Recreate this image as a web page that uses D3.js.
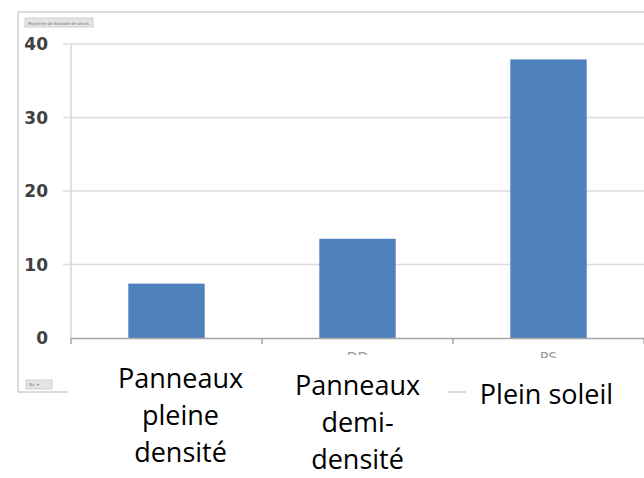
<!DOCTYPE html>
<html>
  <head>
    <title>Nombre de semis</title>
    <style>
body {
  margin: 0px;
  overflow: hidden;
  background: #fff;
}
.tick-label {
  font-family: 'DejaVu Sans', sans-serif;
  font-size: 17px;
  font-weight: bold;
  fill: #404040;
}
.cat-label {
  font-family: 'Open Sans', sans-serif;
  font-size: 27px;
  fill: #000;
}
.btn text {
  font-family: 'DejaVu Sans', sans-serif;
  font-size: 4px;
  fill: #777;
}
    </style>
    <script src="https://d3js.org/d3.v7.min.js"></script>
  </head>
  <body>
    <svg width="644" height="478"></svg>
    <script>
// data
const categories = ['PD', 'DD', 'PS'];
const values = [7.4, 13.5, 37.9];
const yTicks = [0, 10, 20, 30, 40];
const catLabels = [
  ['Panneaux', 'pleine', 'densité'],
  ['Panneaux', 'demi-', 'densité'],
  ['Plein soleil']
];

const svg = d3.select('svg');

const plot = { left: 71, right: 644, top: 44, bottom: 338 };

const xScale = d3.scaleBand()
  .domain(categories)
  .range([plot.left, plot.right])
  .paddingInner(0.6)
  .paddingOuter(0.3);

const yScale = d3.scaleLinear()
  .domain([0, 40])
  .range([plot.bottom, plot.top]);

// outer chart frame
svg.append('line')
  .attr('x1', 18).attr('y1', 12).attr('x2', 644).attr('y2', 12)
  .attr('stroke', '#cfcfcf').attr('stroke-width', 1.5);
svg.append('line')
  .attr('x1', 18).attr('y1', 12).attr('x2', 18).attr('y2', 392)
  .attr('stroke', '#cfcfcf').attr('stroke-width', 1.5);
svg.append('line')
  .attr('x1', 18).attr('y1', 392).attr('x2', 644).attr('y2', 392)
  .attr('stroke', '#cfcfcf').attr('stroke-width', 1.5);

// field buttons
const topBtn = svg.append('g').attr('class', 'btn');
topBtn.append('rect')
  .attr('x', 25).attr('y', 18).attr('width', 68).attr('height', 9)
  .attr('fill', '#e4e4e4').attr('stroke', '#d0d0d0');
topBtn.append('text').attr('x', 28).attr('y', 24.5).text('Moyenne de Nombre de semis');
const botBtn = svg.append('g').attr('class', 'btn');
botBtn.append('rect')
  .attr('x', 26).attr('y', 380).attr('width', 26).attr('height', 9)
  .attr('fill', '#e4e4e4').attr('stroke', '#d0d0d0');
botBtn.append('text').attr('x', 29).attr('y', 386).text('No. ▾');

// grid
const g = svg.append('g');
g.selectAll('.grid').data(yTicks.filter(d => d > 0))
  .enter().append('line')
  .attr('class', 'grid')
  .attr('x1', plot.left - 8).attr('x2', plot.right)
  .attr('y1', d => yScale(d)).attr('y2', d => yScale(d))
  .attr('stroke', '#dcdcdc').attr('stroke-width', 1.5);

// y axis line
g.append('line')
  .attr('x1', plot.left).attr('x2', plot.left)
  .attr('y1', plot.top).attr('y2', plot.bottom)
  .attr('stroke', '#d6d6d6').attr('stroke-width', 1.5);

g.selectAll('.tick-label').data(yTicks)
  .enter().append('text')
  .attr('class', 'tick-label')
  .attr('x', 48)
  .attr('y', d => yScale(d))
  .attr('dy', '0.36em')
  .attr('text-anchor', 'end')
  .text(d => d);

// bars
g.selectAll('.bar').data(values)
  .enter().append('rect')
  .attr('class', 'bar')
  .attr('x', (d, i) => xScale(categories[i]))
  .attr('y', d => yScale(d))
  .attr('width', xScale.bandwidth())
  .attr('height', d => yScale(0) - yScale(d))
  .attr('fill', '#4f81bd');

// x axis (original labels mostly hidden by the pasted boxes)
const xAxis = d3.axisBottom(xScale).tickSize(0).tickPadding(14)
  .tickFormat(d => d === 'PD' ? '' : d);
const xAxisG = g.append('g')
  .attr('transform', `translate(0,${plot.bottom})`)
  .call(xAxis);
xAxisG.select('.domain').attr('stroke', '#a6a6a6').attr('stroke-width', 1.5);
xAxisG.selectAll('.tick text')
  .attr('font-family', 'DejaVu Sans, sans-serif')
  .attr('font-size', 14)
  .attr('fill', '#9a9a9a');
const step = xScale.step();
const edges = d3.range(categories.length + 1).map(i => plot.left + i * step);
g.selectAll('.xtick').data(edges)
  .enter().append('line')
  .attr('x1', d => d).attr('x2', d => d)
  .attr('y1', plot.bottom).attr('y2', plot.bottom + 6)
  .attr('stroke', '#a6a6a6').attr('stroke-width', 1.5);

// pasted label boxes over the original axis labels
const boxes = [
  { x: 68, y: 350, w: 202 },
  { x: 270, y: 355, w: 178 },
  { x: 466, y: 358, w: 178 }
];
const firstBase = [388, 395, 404];
const shift = [14, 0, -2];
const centers = categories.map((c, i) => xScale(c) + xScale.bandwidth() / 2 + shift[i]);

svg.selectAll('.labbox').data(boxes)
  .enter().append('rect')
  .attr('x', d => d.x).attr('y', d => d.y)
  .attr('width', d => d.w).attr('height', 478 - 350)
  .attr('fill', '#fff');

catLabels.forEach((lines, i) => {
  const t = svg.append('text')
    .attr('class', 'cat-label')
    .attr('text-anchor', 'middle');
  lines.forEach((l, j) => {
    t.append('tspan')
      .attr('x', centers[i])
      .attr('y', firstBase[i] + j * 37)
      .text(l);
  });
});
    </script>
  </body>
</html>
